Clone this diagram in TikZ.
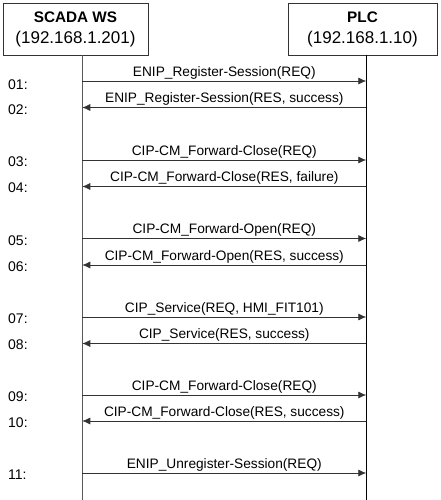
\documentclass[tikz,border=0pt]{standalone}
\usepackage{fontspec}
\setmainfont{Liberation Sans}
\usetikzlibrary{arrows.meta}
\tikzset{
  seqpicture/.style={x=1pt, y=-1pt},
  seqhead/.style={draw=black!80, line width=0.8pt, align=center, inner sep=0pt, minimum height=52pt, font=\fontsize{17}{21}\selectfont},
  seqlife/.style={line width=0.8pt},
  seqmsg/.style={-{Latex[length=8pt, width=7pt]}, line width=0.7pt, draw=black!80},
  seqlabel/.style={above, inner sep=1.5pt, font=\fontsize{13.7}{16}\selectfont},
  seqnum/.style={anchor=west, inner sep=0pt, font=\fontsize{14}{16}\selectfont}
}

\begin{document}
\begin{tikzpicture}[seqpicture]
\useasboundingbox (0,0) rectangle (440,500);
% participants
\node[seqhead, minimum width=145pt] (ws) at (75.5,29) {{\fontsize{15.3}{20}\selectfont\bfseries SCADA WS}\\(192.168.1.201)};
\node[seqhead, minimum width=149pt] (plc) at (362.5,29) {{\fontsize{15.3}{20}\selectfont\bfseries PLC}\\(192.168.1.10)};
% lifelines
\coordinate (wstop) at (82.3,55);
\coordinate (wsend) at (82.3,500);
\coordinate (plctop) at (366.3,55);
\coordinate (plcend) at (366.3,500);
\draw[seqlife, black!65] (wstop) -- (wsend);
\draw[seqlife, black] (plctop) -- (plcend);
% message ends
\coordinate (w01) at (82.3,81);    \coordinate (p01) at (366.3,81);
\coordinate (w02) at (82.3,107.5); \coordinate (p02) at (366.3,107.5);
\coordinate (w03) at (82.3,160);   \coordinate (p03) at (366.3,160);
\coordinate (w04) at (82.3,186.5); \coordinate (p04) at (366.3,186.5);
\coordinate (w05) at (82.3,238.5); \coordinate (p05) at (366.3,238.5);
\coordinate (w06) at (82.3,265);   \coordinate (p06) at (366.3,265);
\coordinate (w07) at (82.3,317);   \coordinate (p07) at (366.3,317);
\coordinate (w08) at (82.3,343.5); \coordinate (p08) at (366.3,343.5);
\coordinate (w09) at (82.3,395);   \coordinate (p09) at (366.3,395);
\coordinate (w10) at (82.3,421);   \coordinate (p10) at (366.3,421);
\coordinate (w11) at (82.3,473);   \coordinate (p11) at (366.3,473);
% messages
\draw[seqmsg] (w01) -- node[seqlabel] {ENIP\_Register-Session(REQ)} (p01);
\draw[seqmsg] (p02) -- node[seqlabel] {ENIP\_Register-Session(RES, success)} (w02);
\draw[seqmsg] (w03) -- node[seqlabel] {CIP-CM\_Forward-Close(REQ)} (p03);
\draw[seqmsg] (p04) -- node[seqlabel] {CIP-CM\_Forward-Close(RES, failure)} (w04);
\draw[seqmsg] (w05) -- node[seqlabel] {CIP-CM\_Forward-Open(REQ)} (p05);
\draw[seqmsg] (p06) -- node[seqlabel] {CIP-CM\_Forward-Open(RES, success)} (w06);
\draw[seqmsg] (w07) -- node[seqlabel] {CIP\_Service(REQ, HMI\_FIT101)} (p07);
\draw[seqmsg] (p08) -- node[seqlabel] {CIP\_Service(RES, success)} (w08);
\draw[seqmsg] (w09) -- node[seqlabel] {CIP-CM\_Forward-Close(REQ)} (p09);
\draw[seqmsg] (p10) -- node[seqlabel] {CIP-CM\_Forward-Close(RES, success)} (w10);
\draw[seqmsg] (w11) -- node[seqlabel] {ENIP\_Unregister-Session(REQ)} (p11);
% step numbers
\node[seqnum] (n01) at (8,85) {01:};
\node[seqnum] (n02) at (8,110) {02:};
\node[seqnum] (n03) at (8,162) {03:};
\node[seqnum] (n04) at (8,188) {04:};
\node[seqnum] (n05) at (8,241) {05:};
\node[seqnum] (n06) at (8,267) {06:};
\node[seqnum] (n07) at (8,319) {07:};
\node[seqnum] (n08) at (8,345) {08:};
\node[seqnum] (n09) at (8,397) {09:};
\node[seqnum] (n10) at (8,423) {10:};
\node[seqnum] (n11) at (8,475) {11:};
\end{tikzpicture}
\end{document}
